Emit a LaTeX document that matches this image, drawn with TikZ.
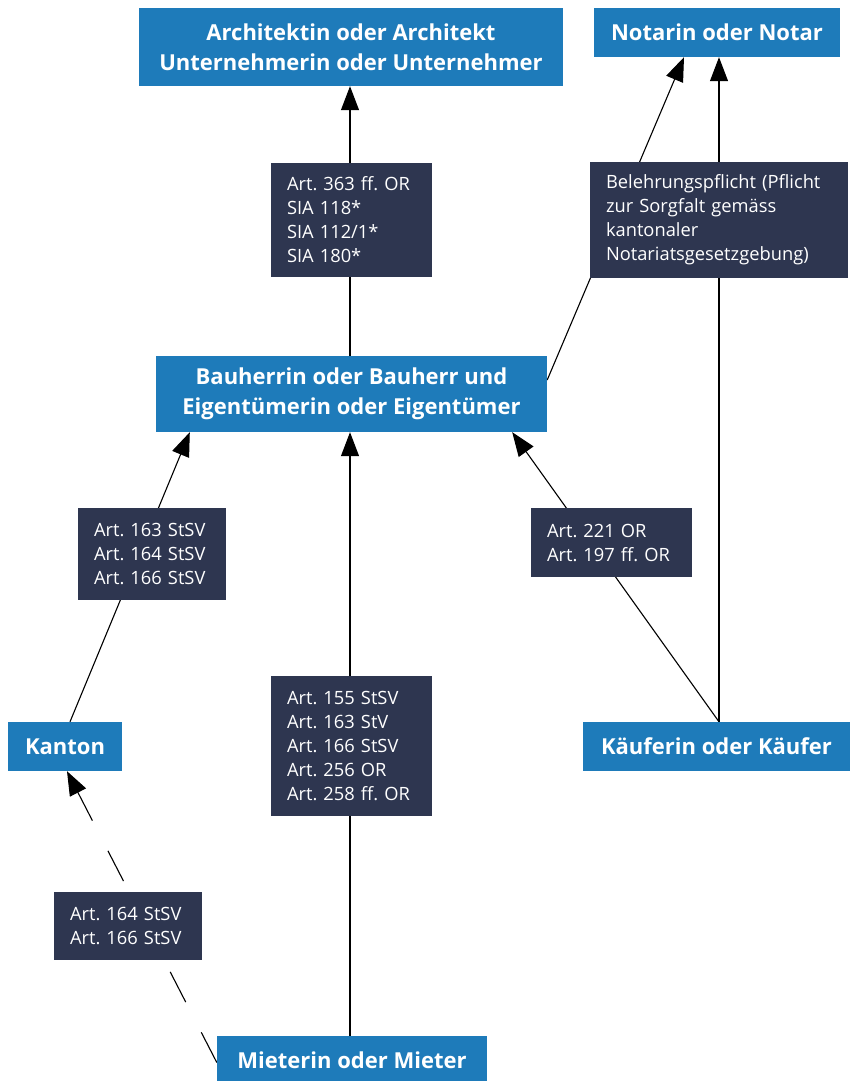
\documentclass[tikz,border=0pt]{standalone}
\usepackage{fontspec}
\setmainfont{Open Sans}
\frenchspacing
\usetikzlibrary{arrows.meta,backgrounds,calc}
\definecolor{nblue}{HTML}{1E7BBA}
\definecolor{ndark}{HTML}{2E3650}
\tikzset{
  party/.style={fill=nblue,text=white,font=\bfseries\fontsize{22}{30}\selectfont,align=center,inner sep=0pt},
  law/.style={fill=ndark,text=white,font=\fontsize{18.3}{24}\selectfont,align=left,inner ysep=0pt,inner xsep=16pt},
  conn/.style={draw=black,line width=1.1pt},
  arr/.style={conn,-{Triangle[length=24pt,width=18pt]}},
  dashconn/.style={arr,dash pattern=on 34pt off 34pt}
}
\begin{document}
\begin{tikzpicture}[x=1pt,y=-1pt]
\useasboundingbox (0,0) rectangle (850,1081);
% parties
\node[party,minimum width=424pt,minimum height=78pt] (arch) at (351,47) {Architektin oder Architekt\\Unternehmerin oder Unternehmer};
\node[party,minimum width=246pt,minimum height=49pt] (notar) at (717,32.5) {Notarin oder Notar};
\node[party,minimum width=391pt,minimum height=76pt] (bau) at (351.5,394) {Bauherrin oder Bauherr und\\Eigentümerin oder Eigentümer};
\node[party,minimum width=114pt,minimum height=49pt] (kanton) at (65,746.5) {Kanton};
\node[party,minimum width=267pt,minimum height=49pt] (kaeuf) at (716.5,746.5) {Käuferin oder Käufer};
\node[party,minimum width=270pt,minimum height=49pt] (mieter) at (352,1060.5) {Mieterin oder Mieter};
% laws
\node[law,text width=129pt,minimum height=114pt] (a363) at (351.5,220) {Art. 363 ff. OR\\SIA 118*\\SIA 112/1*\\SIA 180*};
\node[law,text width=226pt,minimum height=116pt] (beleh) at (719,220) {Belehrungspflicht (Pflicht\\zur Sorgfalt gemäss\\kantonaler\\Notariatsgesetzgebung)};
\node[law,text width=116pt,minimum height=92pt] (a163) at (152,554) {Art. 163 StSV\\Art. 164 StSV\\Art. 166 StSV};
\node[law,text width=129pt,minimum height=69pt] (a221) at (611.5,542.5) {Art. 221 OR\\Art. 197 ff. OR};
\node[law,text width=129pt,minimum height=140pt] (a155) at (351.5,746) {Art. 155 StSV\\Art. 163 StV\\Art. 166 StSV\\Art. 256 OR\\Art. 258 ff. OR};
\node[law,text width=116pt,minimum height=68pt] (a164) at (128,926) {Art. 164 StSV\\Art. 166 StSV};
% connectors
\begin{pgfonlayer}{background}
\coordinate (kaeufTop) at ([xshift=2.5pt]kaeuf.north);
\coordinate (bauTop) at ([xshift=-1.5pt]bau.north);
\draw[arr] (bauTop) -- (bauTop |- arch.south);
\draw[arr] ([yshift=14pt]bau.east) -- ([xshift=-33pt]notar.south);
\draw[arr] (kaeufTop) -- (kaeufTop |- notar.south);
\draw[arr] (kaeufTop) -- ([xshift=-35pt]bau.south east);
\draw[arr] ([xshift=5pt]kanton.north) -- ([xshift=34pt]bau.south west);
\draw[arr] ([xshift=-2pt]mieter.north) -- ([xshift=-2pt]mieter.north |- bau.south);
\draw[dashconn] ([yshift=-2pt]mieter.west) -- ([xshift=2pt]kanton.south);
\end{pgfonlayer}
\end{tikzpicture}
\end{document}
